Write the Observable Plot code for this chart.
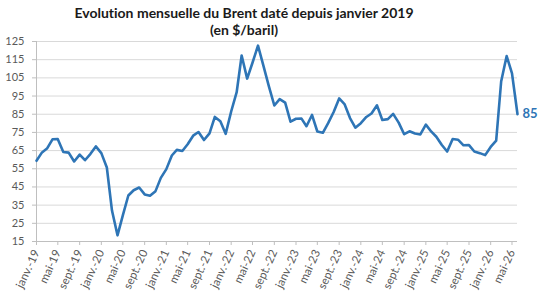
<!DOCTYPE html>
<html>
<head>
<meta charset="utf-8">
<script src="https://cdn.jsdelivr.net/npm/d3@7"></script>
<script src="https://cdn.jsdelivr.net/npm/@observablehq/plot@0.6"></script>
<style>
  body { margin: 0; background: #fff; font-family: Lato, "Open Sans", sans-serif; font-variant-ligatures: none; }
  #chart { position: relative; width: 543px; height: 295px; }
  #title {
    position: absolute; left: 0; top: 4px; width: 488px;
    text-align: center; font-weight: bold; font-size: 14px; line-height: 17px; color: #1a1a1a;
    font-variant-ligatures: none;
  }
  #chart svg { display: block; }
</style>
</head>
<body>
<div id="chart">
  <div id="title">Evolution mensuelle du Brent daté depuis janvier 2019<br>(en $/baril)</div>
</div>
<script>
// Monthly average of dated Brent, $/barrel, one array per year (starting in January)
const brent2019 = [59.4, 64.0, 66.1, 71.2, 71.3, 64.2, 63.9, 59.0, 62.8, 59.7, 63.2, 67.3];
const brent2020 = [63.6, 55.7, 32.0, 18.4, 29.4, 40.3, 43.2, 44.7, 40.9, 40.2, 42.7, 50.0];
const brent2021 = [54.8, 62.3, 65.4, 64.8, 68.5, 73.2, 75.2, 70.8, 74.5, 83.5, 81.1, 74.2];
const brent2022 = [86.5, 97.1, 117.3, 104.6, 113.3, 122.7, 111.9, 100.5, 89.8, 93.3, 91.4, 80.9];
const brent2023 = [82.5, 82.6, 78.4, 84.6, 75.5, 74.8, 80.1, 86.2, 93.7, 90.6, 82.9, 77.6];
const brent2024 = [80.1, 83.5, 85.4, 89.9, 81.8, 82.3, 85.2, 80.4, 74.0, 75.6, 74.4, 73.9];
const brent2025 = [79.3, 75.4, 72.6, 68.1, 64.5, 71.4, 71.0, 67.9, 68.0, 64.5, 63.6, 62.5];
const brent2026 = [67.0, 70.5, 103.0, 117.0, 107.5, 85];

const years = [2019, 2020, 2021, 2022, 2023, 2024, 2025, 2026];
const series = [brent2019, brent2020, brent2021, brent2022, brent2023, brent2024, brent2025, brent2026];

// French month abbreviations used for the category labels
const monthAbbr = ["janv.", "févr.", "mars", "avr.", "mai", "juin", "juil.", "août", "sept.", "oct.", "nov.", "déc."];

// y-axis graduations
const yTicks = [15, 25, 35, 45, 55, 65, 75, 85, 95, 105, 115, 125];

const data = years.flatMap((yr, k) =>
  series[k].map((value, m) => ({date: new Date(Date.UTC(yr, m, 1)), value}))
);
const first = data[0].date;
const last = data[data.length - 1].date;

// a label every four months: janv., mai, sept.
const xTicks = data.map(d => d.date).filter(d => d.getUTCMonth() % 4 === 0);
const fmt = d => `${monthAbbr[d.getUTCMonth()]}-${String(d.getUTCFullYear()).slice(2)}`;

const blue = "#2e75b6";
const axisGray = "#bfbfbf";

const chart = Plot.plot({
  width: 543,
  height: 295,
  marginLeft: 36,
  marginRight: 26,
  marginTop: 41,
  marginBottom: 54,
  style: {fontFamily: "Lato, 'Open Sans', sans-serif", fontSize: "11px", color: "#595959", background: "transparent"},
  x: {type: "utc", domain: [first, last]},
  y: {domain: [15, 125]},
  marks: [
    Plot.gridY(yTicks.slice(1), {stroke: "#d9d9d9", strokeOpacity: 1}),
    Plot.ruleY([15], {stroke: axisGray}),
    Plot.ruleX([first], {stroke: axisGray}),
    Plot.axisY(yTicks, {tickSize: 4, tickPadding: 8, stroke: axisGray, label: null, fill: "#595959"}),
    Plot.axisX(xTicks, {tickSize: 4, tickPadding: 5, tickRotate: -65, tickFormat: fmt, stroke: axisGray, label: null, fill: "#595959", fontSize: 11.5}),
    Plot.lineY(data, {x: "date", y: "value", stroke: blue, strokeWidth: 2.6, strokeLinejoin: "round", strokeLinecap: "round"}),
    Plot.text(data, Plot.selectLast({
      x: "date", y: "value", text: d => String(Math.round(d.value)),
      dx: 5, textAnchor: "start", fill: blue, fontWeight: "bold", fontSize: 13
    }))
  ]
});

document.getElementById("chart").prepend(chart);
</script>
</body>
</html>
